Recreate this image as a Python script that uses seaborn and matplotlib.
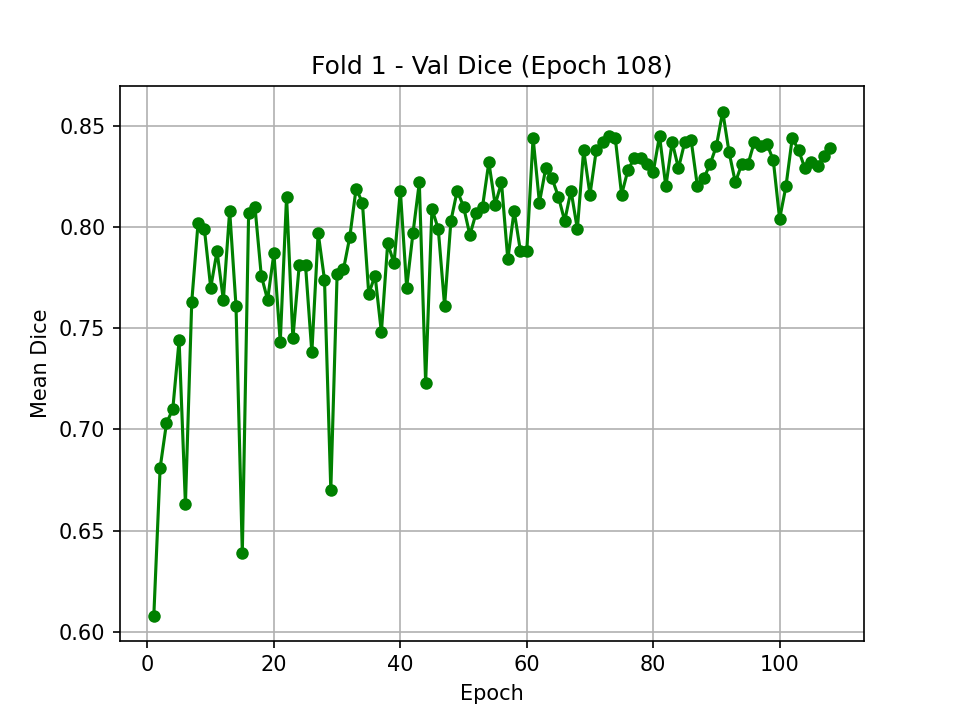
import matplotlib
matplotlib.use("Agg")
import matplotlib.pyplot as plt
import seaborn as sns
import pandas as pd

# Validation dice per epoch
val_dice = [
    0.608, 0.681, 0.703, 0.710, 0.744, 0.663, 0.763, 0.802, 0.799, 0.770,
    0.788, 0.764, 0.808, 0.761, 0.639, 0.807, 0.810, 0.776, 0.764, 0.787,
    0.743, 0.815, 0.745, 0.781, 0.781, 0.738, 0.797, 0.774, 0.670, 0.777,
    0.779, 0.795, 0.819, 0.812, 0.767, 0.776, 0.748, 0.792, 0.782, 0.818,
    0.770, 0.797, 0.822, 0.723, 0.809, 0.799, 0.761, 0.803, 0.818, 0.810,
    0.796, 0.807, 0.810, 0.832, 0.811, 0.822, 0.784, 0.808, 0.788, 0.788,
    0.844, 0.812, 0.829, 0.824, 0.815, 0.803, 0.818, 0.799, 0.838, 0.816,
    0.838, 0.842, 0.845, 0.844, 0.816, 0.828, 0.834, 0.834, 0.831, 0.827,
    0.845, 0.820, 0.842, 0.829, 0.842, 0.843, 0.820, 0.824, 0.831, 0.840,
    0.857, 0.837, 0.822, 0.831, 0.831, 0.842, 0.840, 0.841, 0.833, 0.804,
    0.820, 0.844, 0.838, 0.829, 0.832, 0.830, 0.835, 0.839,
]
epochs = list(range(1, len(val_dice) + 1))
df = pd.DataFrame({"Epoch": epochs, "Mean Dice": val_dice})

fig, ax = plt.subplots(figsize=(6.4, 4.8), dpi=150)
sns.lineplot(data=df, x="Epoch", y="Mean Dice", ax=ax, color="green",
             marker="o", markersize=6, markeredgewidth=0, linewidth=1.5)
ax.set_title(f"Fold 1 - Val Dice (Epoch {len(val_dice)})")
ax.grid(True)
fig.savefig("out.png")
